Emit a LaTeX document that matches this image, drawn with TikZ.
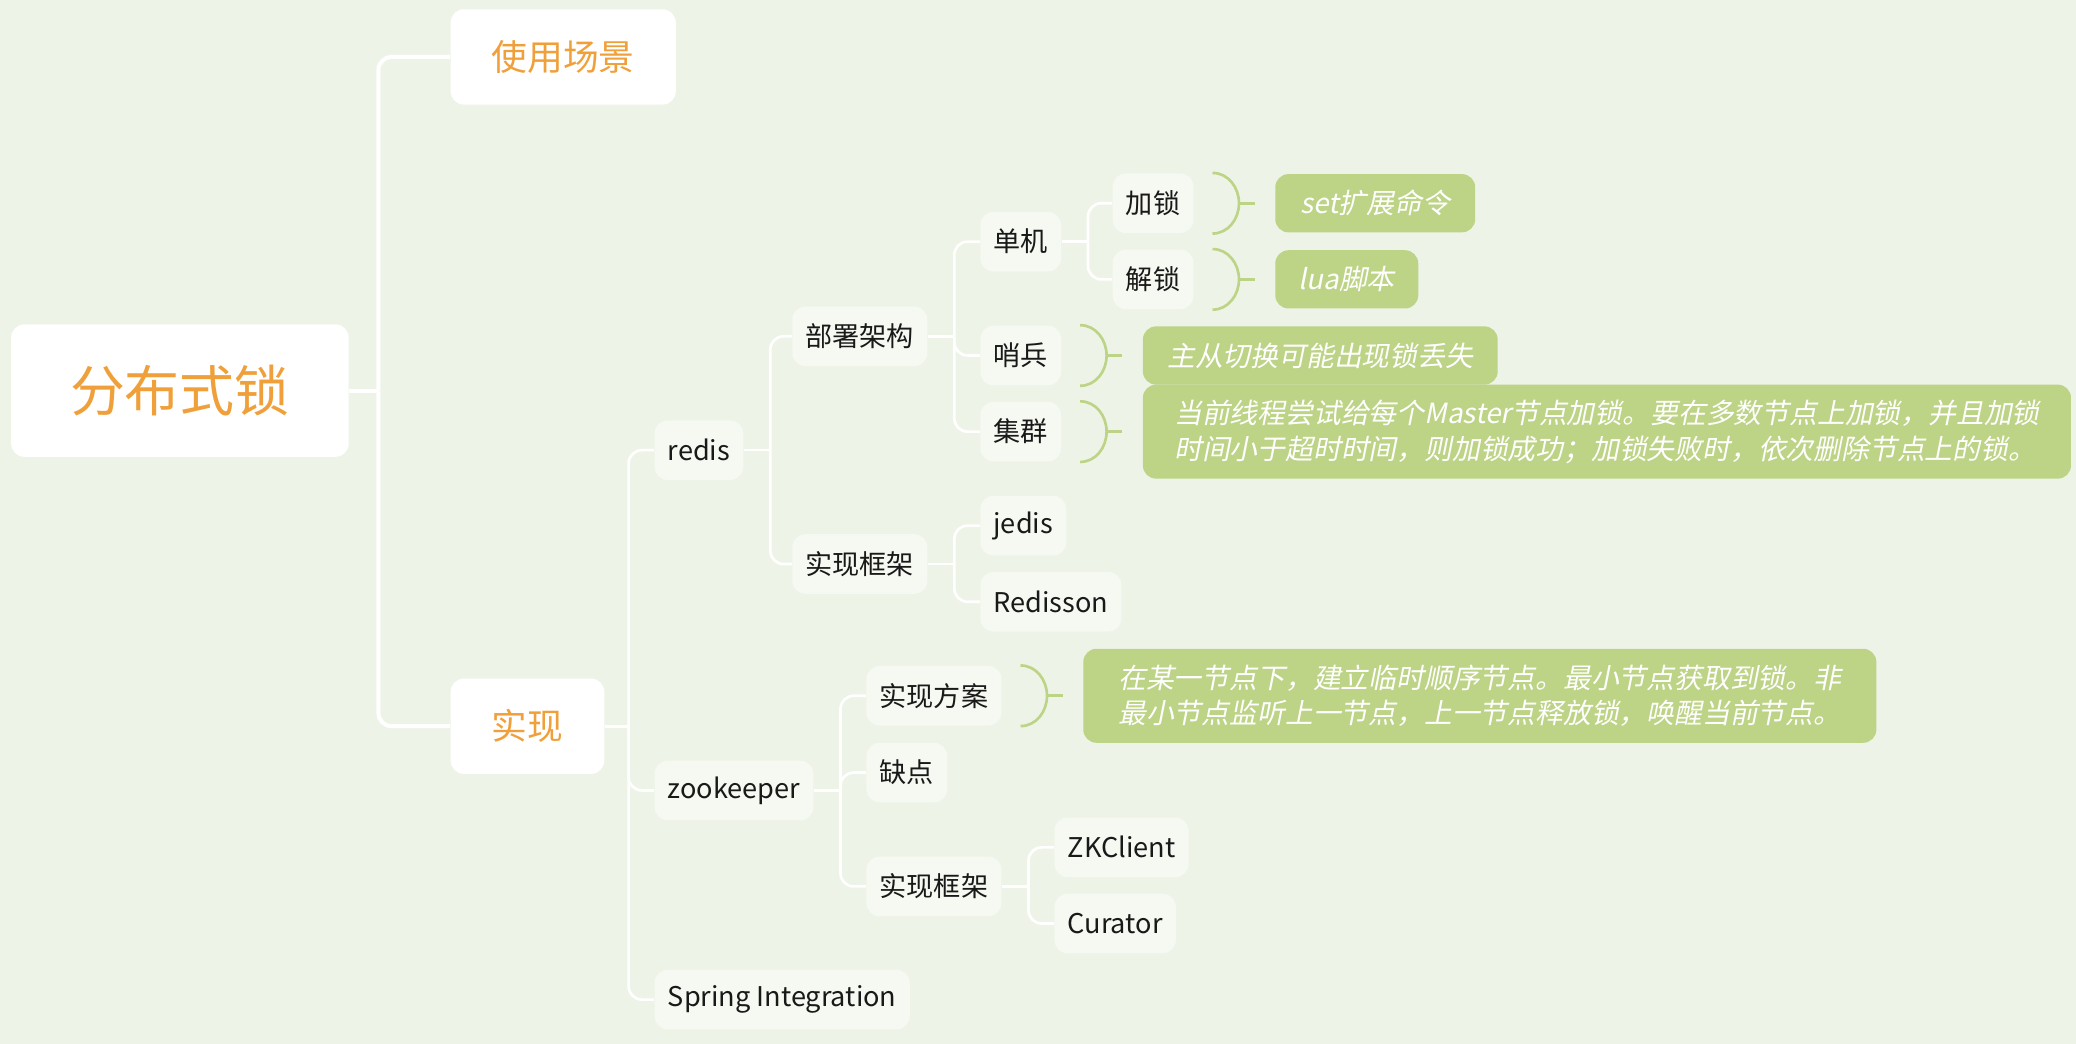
\documentclass[tikz,border=0pt]{standalone}
\usepackage{fontspec}
\setmainfont{Noto Sans CJK SC}
\newfontfamily\notefont[FakeSlant=0.2]{Noto Sans CJK SC}
\usetikzlibrary{positioning}

\definecolor{bgcol}{RGB}{238,243,231}
\definecolor{leafcol}{RGB}{246,249,241}
\definecolor{orangetxt}{RGB}{240,160,58}
\definecolor{notecol}{RGB}{189,211,134}
\definecolor{ink}{RGB}{25,25,25}

\begin{document}
\begin{tikzpicture}[x=0.5pt, y=-0.5pt]

\tikzstyle{rootbox}=[rectangle, rounded corners=5pt, fill=white, text=orangetxt, minimum width=127.5pt, minimum height=50pt, font=\fontsize{20.75}{24}\selectfont]
\tikzstyle{topbox}=[rectangle, rounded corners=5pt, fill=white, text=orangetxt, inner xsep=15.5pt, minimum height=36pt, font=\fontsize{13.5}{16}\selectfont]
\tikzstyle{leaf}=[rectangle, rounded corners=5pt, fill=leafcol, text=ink, inner xsep=5pt, minimum height=22.5pt, font=\fontsize{10.25}{12}\selectfont]
\tikzstyle{note}=[rectangle, rounded corners=5pt, fill=notecol, text=white, minimum height=22pt, font={\notefont\fontsize{10.5}{13.5}\selectfont}]
\tikzstyle{trunk}=[draw=white, line width=1.5pt, rounded corners=5pt]
\tikzstyle{branch}=[draw=white, line width=1pt, rounded corners=5pt]
\tikzstyle{brace}=[draw=notecol, line width=1pt]

\fill[bgcol] (0,0) rectangle (1568,788.5);
\useasboundingbox (0,0) rectangle (1568,788.5);

% root and first level
\node (root) [rootbox, anchor=west] at (8,295) {分布式锁};
\node (scene) [topbox, anchor=west] at (340,43) {使用场景};
\node (impl) [topbox, anchor=west] at (340,548.5) {实现};

% implementations
\node (redis) [leaf, anchor=west] at (494,340) {redis};
\node (zk) [leaf, anchor=west] at (494,597) {zookeeper};
\node (spring) [leaf, anchor=west] at (494,755) {Spring Integration};

% redis
\node (deploy) [leaf, anchor=west] at (598,254) {部署架构};
\node (rframe) [leaf, anchor=west] at (598,426) {实现框架};
\node (single) [leaf, anchor=west] at (740,182.5) {单机};
\node (sentinel) [leaf, anchor=west] at (740,268.5) {哨兵};
\node (cluster) [leaf, anchor=west] at (740,326) {集群};
\node (jedis) [leaf, anchor=west] at (740,397) {jedis};
\node (redisson) [leaf, anchor=west] at (740,454.5) {Redisson};
\node (lock) [leaf, anchor=west] at (840,153.5) {加锁};
\node (unlock) [leaf, anchor=west] at (840,211) {解锁};

% zookeeper
\node (zplan) [leaf, anchor=west] at (654,525.5) {实现方案};
\node (zcons) [leaf, anchor=west] at (654,583.5) {缺点};
\node (zframe) [leaf, anchor=west] at (654,669.5) {实现框架};
\node (zkclient) [leaf, anchor=west] at (796,640) {ZKClient};
\node (curator) [leaf, anchor=west] at (796,697.5) {Curator};

% notes
\node (nlock) [note, minimum width=75.5pt, right=30.5pt of lock] {set扩展命令};
\node (nunlock) [note, minimum width=54pt, right=30.5pt of unlock] {lua脚本};
\node (nsentinel) [note, minimum width=134pt, right=30.5pt of sentinel] {主从切换可能出现锁丢失};
\node (ncluster) [note, minimum width=350.5pt, minimum height=35.5pt, align=left, right=30.5pt of cluster] {当前线程尝试给每个Master节点加锁。要在多数节点上加锁，并且加锁\\时间小于超时时间，则加锁成功；加锁失败时，依次删除节点上的锁。};
\node (nzplan) [note, minimum width=299.5pt, minimum height=35.5pt, align=left, right=30.5pt of zplan] {在某一节点下，建立临时顺序节点。最小节点获取到锁。非\\最小节点监听上一节点，上一节点释放锁，唤醒当前节点。};

% branches
\coordinate (jroot) at ([xshift=11pt]root.east);
\draw [trunk] (root.east) -- (jroot);
\draw [trunk] (jroot) |- (scene.west);
\draw [trunk] (jroot) |- (impl.west);

\coordinate (jimpl) at ([xshift=9pt]impl.east);
\draw [branch] (impl.east) -- (jimpl);
\draw [branch] (jimpl) |- (redis.west);
\draw [branch] (jimpl) |- (zk.west);
\draw [branch] (jimpl) |- (spring.west);

\coordinate (jredis) at ([xshift=10pt]redis.east);
\draw [branch] (redis.east) -- (jredis);
\draw [branch] (jredis) |- (deploy.west);
\draw [branch] (jredis) |- (rframe.west);

\coordinate (jdeploy) at ([xshift=10pt]deploy.east);
\draw [branch] (deploy.east) -- (jdeploy);
\draw [branch] (jdeploy) |- (single.west);
\draw [branch] (jdeploy) |- (sentinel.west);
\draw [branch] (jdeploy) |- (cluster.west);

\coordinate (jsingle) at ([xshift=10pt]single.east);
\draw [branch] (single.east) -- (jsingle);
\draw [branch] (jsingle) |- (lock.west);
\draw [branch] (jsingle) |- (unlock.west);

\coordinate (jrframe) at ([xshift=10pt]rframe.east);
\draw [branch] (rframe.east) -- (jrframe);
\draw [branch] (jrframe) |- (jedis.west);
\draw [branch] (jrframe) |- (redisson.west);

\coordinate (jzk) at ([xshift=10pt]zk.east);
\draw [branch] (zk.east) -- (jzk);
\draw [branch] (jzk) |- (zplan.west);
\draw [branch] (jzk) |- (zcons.west);
\draw [branch] (jzk) |- (zframe.west);

\coordinate (jzframe) at ([xshift=10pt]zframe.east);
\draw [branch] (zframe.east) -- (jzframe);
\draw [branch] (jzframe) |- (zkclient.west);
\draw [branch] (jzframe) |- (curator.west);

% braces to the notes
\draw [brace] ([xshift=7pt]lock.north east) to[out=0,in=90] ([xshift=17pt]lock.east) to[out=-90,in=0] ([xshift=7pt]lock.south east);
\draw [brace] ([xshift=17pt]lock.east) -- ([xshift=23pt]lock.east);
\draw [brace] ([xshift=7pt]unlock.north east) to[out=0,in=90] ([xshift=17pt]unlock.east) to[out=-90,in=0] ([xshift=7pt]unlock.south east);
\draw [brace] ([xshift=17pt]unlock.east) -- ([xshift=23pt]unlock.east);
\draw [brace] ([xshift=7pt]sentinel.north east) to[out=0,in=90] ([xshift=17pt]sentinel.east) to[out=-90,in=0] ([xshift=7pt]sentinel.south east);
\draw [brace] ([xshift=17pt]sentinel.east) -- ([xshift=23pt]sentinel.east);
\draw [brace] ([xshift=7pt]cluster.north east) to[out=0,in=90] ([xshift=17pt]cluster.east) to[out=-90,in=0] ([xshift=7pt]cluster.south east);
\draw [brace] ([xshift=17pt]cluster.east) -- ([xshift=23pt]cluster.east);
\draw [brace] ([xshift=7pt]zplan.north east) to[out=0,in=90] ([xshift=17pt]zplan.east) to[out=-90,in=0] ([xshift=7pt]zplan.south east);
\draw [brace] ([xshift=17pt]zplan.east) -- ([xshift=23pt]zplan.east);

\end{tikzpicture}
\end{document}
